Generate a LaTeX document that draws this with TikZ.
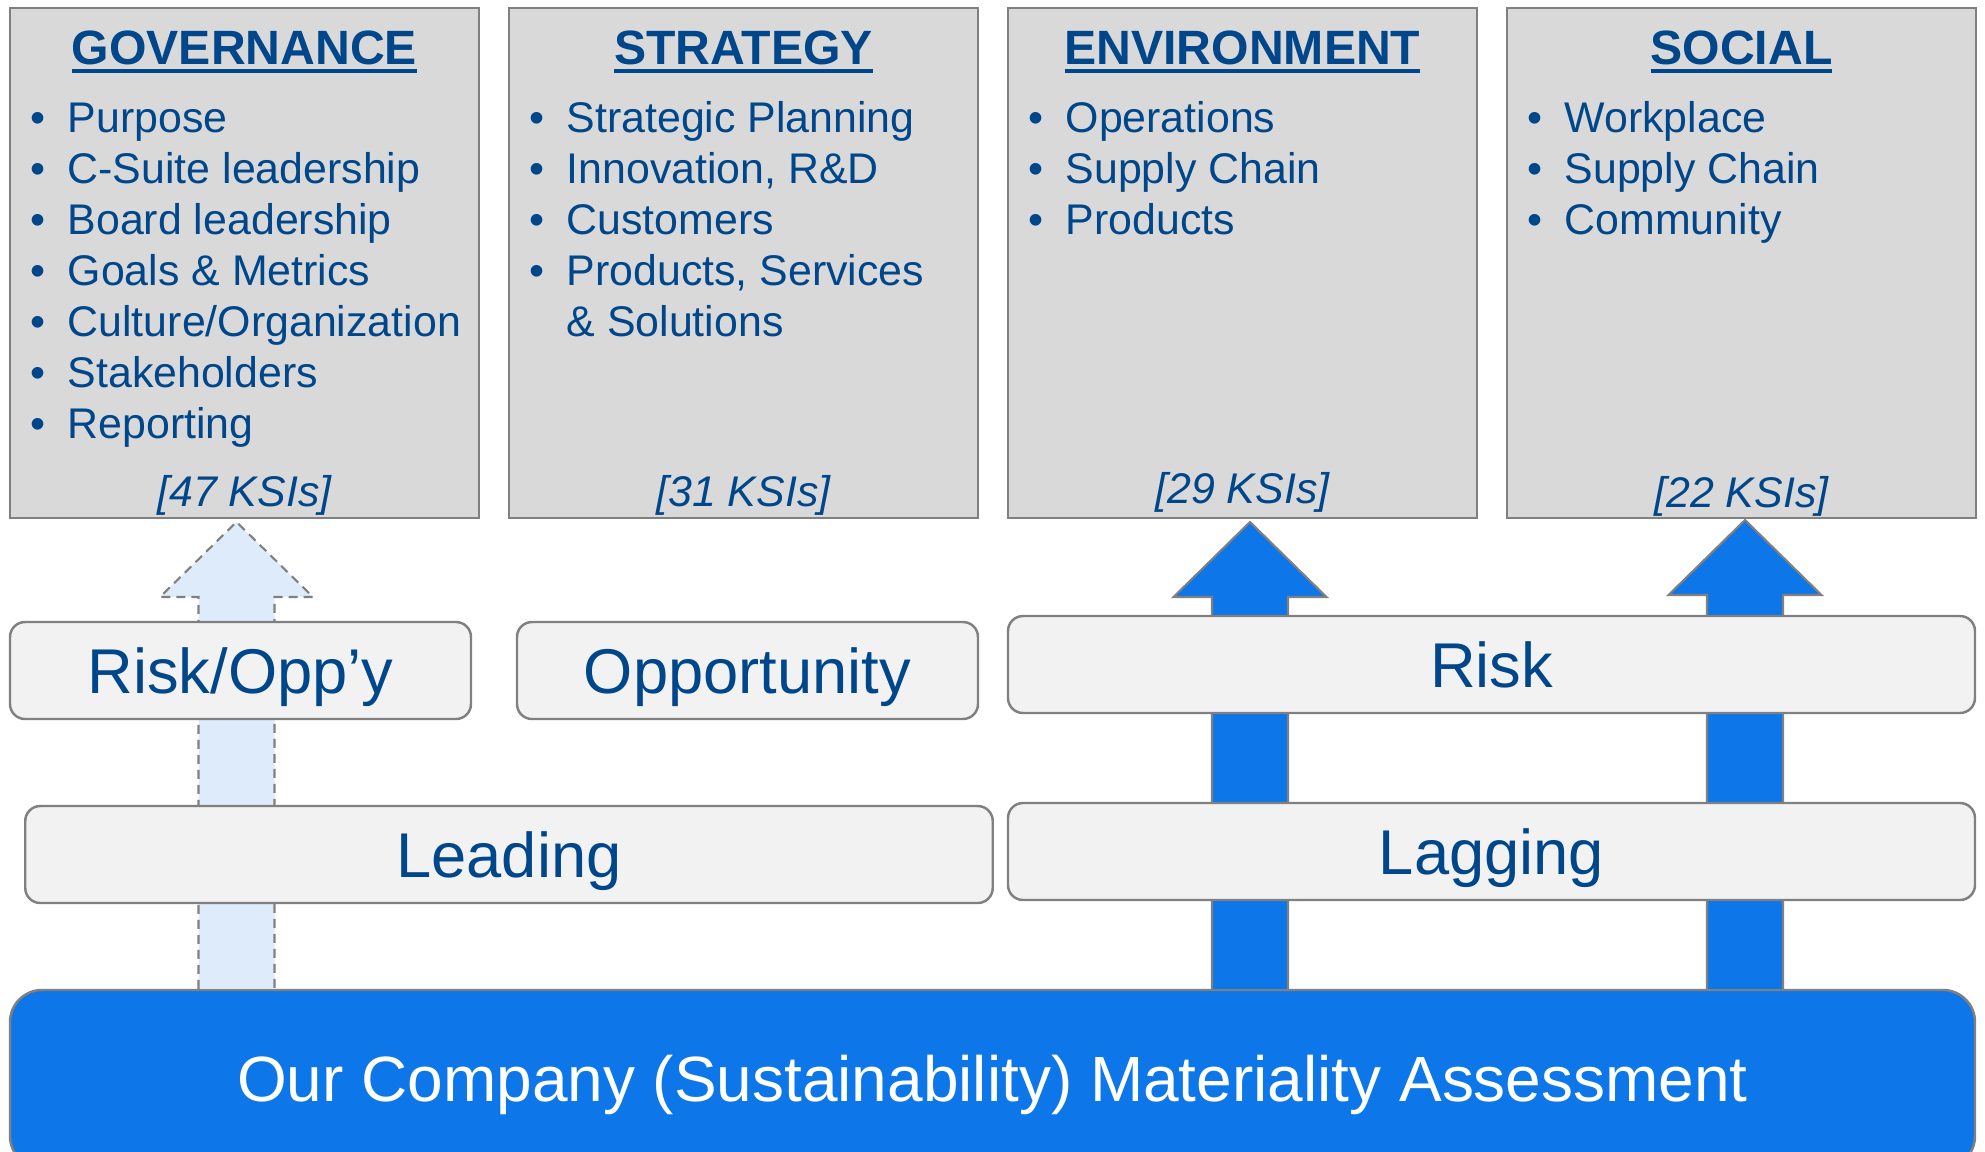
\documentclass[tikz,border=0pt]{standalone}
\usepackage{fontspec}
\setmainfont{Liberation Sans}
\usetikzlibrary{calc}

\definecolor{navy}{HTML}{00468B}
\definecolor{panelgrey}{HTML}{D9D9D9}
\definecolor{linegrey}{HTML}{808080}
\definecolor{barfill}{HTML}{F2F2F2}
\definecolor{arrowblue}{HTML}{0D76E9}
\definecolor{paleblue}{HTML}{DEEBFA}

% bullet and underlined heading
\newcommand{\itm}{\makebox[0.37cm][l]{•}}
\newsavebox{\ulbox}
\newcommand{\titleul}[1]{\sbox{\ulbox}{#1}\rlap{\rule[-0.094cm]{\wd\ulbox}{0.044cm}}\usebox{\ulbox}}
% block arrow: style, tip, foot
\newcommand{\blockarrow}[3]{%
  \filldraw[#1] ($(#3)+(-0.38,0)$) -- ($(#2)+(-0.38,-0.75)$) -- ($(#2)+(-0.765,-0.75)$) -- (#2)
    -- ($(#2)+(0.765,-0.75)$) -- ($(#2)+(0.38,-0.75)$) -- ($(#3)+(0.38,0)$);
}

\tikzset{
  pillar/.style={draw=linegrey, line width=0.8pt, fill=panelgrey, minimum width=4.69cm, minimum height=5.10cm, inner sep=0pt},
  heading/.style={font=\fontsize{13.7}{16}\selectfont\bfseries, text=navy, anchor=base, inner sep=0pt},
  item/.style={font=\fontsize{12.2}{14.5}\selectfont, text=navy, anchor=base west, inner sep=0pt},
  ksi/.style={font=\fontsize{12.2}{14.5}\selectfont\itshape, text=navy, anchor=base, inner sep=0pt},
  bar/.style={draw=linegrey, line width=0.7pt, fill=barfill, rounded corners=0.15cm, minimum height=0.97cm, text=navy, font=\fontsize{18}{21}\selectfont, text height=12.9pt, text depth=0pt},
  basebox/.style={draw=linegrey, line width=0.7pt, fill=arrowblue, rounded corners=0.32cm, minimum width=19.65cm, minimum height=1.78cm, text=white, font=\fontsize{18.2}{21}\selectfont, text height=13pt, text depth=0pt},
  solidarrow/.style={fill=arrowblue, draw=linegrey, line width=0.6pt},
  dashedarrow/.style={fill=paleblue, draw=linegrey, line width=0.6pt, dash pattern=on 0.09cm off 0.06cm},
}

\begin{document}
\begin{tikzpicture}
        \clip (0,0) rectangle (19.85,-11.51);

        % Pillars
        \node[pillar] (gov) at (2.445,-2.63) {};
        \node[pillar] (strat) at (7.435,-2.63) {};
        \node[pillar] (env) at (12.425,-2.63) {};
        \node[pillar] (soc) at (17.415,-2.63) {};

        % Headings
        \node[heading] (govhead) at (2.445,-0.64) {\titleul{GOVERNANCE}};
        \node[heading] (strathead) at (7.435,-0.64) {\titleul{STRATEGY}};
        \node[heading] (envhead) at (12.425,-0.64) {\titleul{ENVIRONMENT}};
        \node[heading] (sochead) at (17.415,-0.64) {\titleul{SOCIAL}};

        % Items
        \node[item] (gov1) at (0.30,-1.32) {\itm Purpose};
        \node[item] (gov2) at (0.30,-1.83) {\itm C-Suite leadership};
        \node[item] (gov3) at (0.30,-2.34) {\itm Board leadership};
        \node[item] (gov4) at (0.30,-2.85) {\itm Goals \& Metrics};
        \node[item] (gov5) at (0.30,-3.36) {\itm Culture/Organization};
        \node[item] (gov6) at (0.30,-3.87) {\itm Stakeholders};
        \node[item] (gov7) at (0.30,-4.38) {\itm Reporting};

        \node[item] (strat1) at (5.29,-1.32) {\itm Strategic Planning};
        \node[item] (strat2) at (5.29,-1.83) {\itm Innovation, R\&D};
        \node[item] (strat3) at (5.29,-2.34) {\itm Customers};
        \node[item] (strat4) at (5.29,-2.85) {\itm Products, Services};
        \node[item] (strat5) at (5.29,-3.36) {\hspace*{0.37cm}\& Solutions};

        \node[item] (env1) at (10.28,-1.32) {\itm Operations};
        \node[item] (env2) at (10.28,-1.83) {\itm Supply Chain};
        \node[item] (env3) at (10.28,-2.34) {\itm Products};

        \node[item] (soc1) at (15.27,-1.32) {\itm Workplace};
        \node[item] (soc2) at (15.27,-1.83) {\itm Supply Chain};
        \node[item] (soc3) at (15.27,-2.34) {\itm Community};

        % KSI counts
        \node[ksi] (govksi) at (2.445,-5.06) {[47 KSIs]};
        \node[ksi] (stratksi) at (7.435,-5.06) {[31 KSIs]};
        \node[ksi] (envksi) at (12.425,-5.03) {[29 KSIs]};
        \node[ksi] (socksi) at (17.415,-5.07) {[22 KSIs]};

        % Assessment
        \node[basebox] (base) at (9.925,-10.79) {Our Company (Sustainability) Materiality Assessment};

        % Arrows
        \coordinate (govtip) at (2.365,-5.22);
        \coordinate (envtip) at (12.50,-5.22);
        \coordinate (soctip) at (17.45,-5.20);
        \coordinate (govfoot) at (govtip |- base.north);
        \coordinate (envfoot) at (envtip |- base.north);
        \coordinate (socfoot) at (soctip |- base.north);
        \blockarrow{dashedarrow}{govtip}{govfoot}
        \blockarrow{solidarrow}{envtip}{envfoot}
        \blockarrow{solidarrow}{soctip}{socfoot}

        % Bars
        \node[bar, minimum width=4.61cm] (riskopp) at (2.405,-6.705) {Risk/Opp’y};
        \node[bar, minimum width=4.61cm] (opp) at (7.475,-6.705) {Opportunity};
        \node[bar, minimum width=9.67cm] (risk) at (14.915,-6.645) {Risk};
        \node[bar, minimum width=9.675cm] (leading) at (5.09,-8.545) {Leading};
        \node[bar, minimum width=9.67cm] (lagging) at (14.915,-8.515) {Lagging};

    \end{tikzpicture}
\end{document}
